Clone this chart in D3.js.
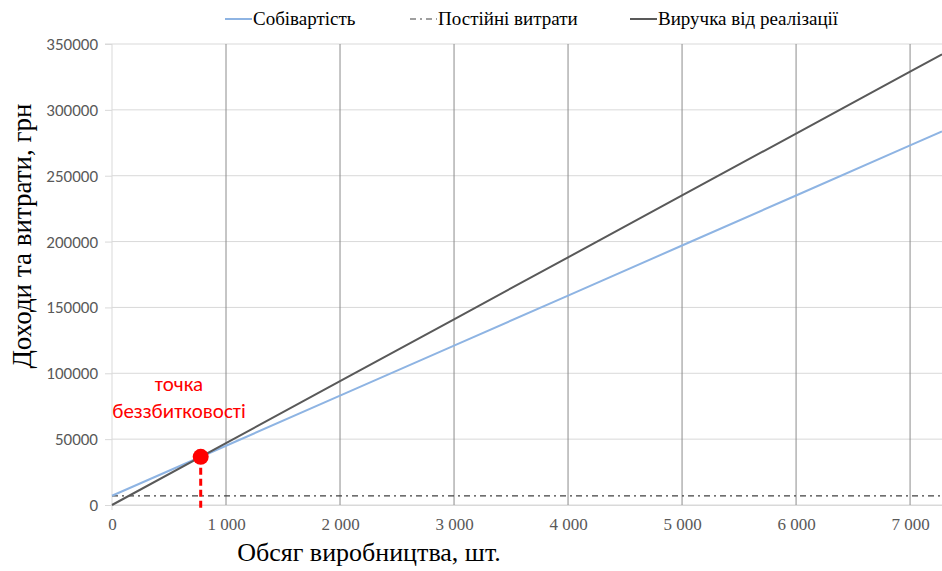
<!DOCTYPE html>
<html>
<head>
<meta charset="utf-8">
<script src="https://cdn.jsdelivr.net/npm/d3@7"></script>
<style>
  body { margin: 0; background: #fff; }
</style>
</head>
<body>
<script>
// Values
const volume = [0, 1000, 2000, 3000, 4000, 5000, 6000, 7000, 7280];
const costValues = [7000, 45000, 83000, 121000, 159000, 197000, 235000, 273000, 283640];
const fixedValues = [7000, 7000, 7000, 7000, 7000, 7000, 7000, 7000, 7000];
const revenueValues = [0, 47000, 94000, 141000, 188000, 235000, 282000, 329000, 342160];
const breakEven = { volume: 778, value: 36560 };
const xTicks = [0, 1000, 2000, 3000, 4000, 5000, 6000, 7000];
const yTicks = [0, 50000, 100000, 150000, 200000, 250000, 300000, 350000];
const seriesNames = ['Собівартість', 'Постійні витрати', 'Виручка від реалізації'];

const [w, h] = [942, 571];
const margin = { top: 44, right: 0, bottom: 66, left: 112 };

const svg = d3.select('body')
    .append('svg')
    .attr('width', w)
    .attr('height', h);

const xScale = d3.scaleLinear()
    .domain([0, 7280])
    .range([margin.left, w - margin.right]);

const yScale = d3.scaleLinear()
    .domain([0, 350000])
    .range([h - margin.bottom, margin.top]);

// Horizontal gridlines
svg.append('g')
    .selectAll('line')
    .data(yTicks)
    .enter()
    .append('line')
    .attr('x1', xScale(0))
    .attr('x2', w)
    .attr('y1', d => yScale(d))
    .attr('y2', d => yScale(d))
    .attr('stroke', '#d9d9d9')
    .attr('stroke-width', 1);

// Vertical gridlines (darker)
svg.append('g')
    .selectAll('line')
    .data(xTicks.filter(d => d > 0))
    .enter()
    .append('line')
    .attr('x1', d => xScale(d))
    .attr('x2', d => xScale(d))
    .attr('y1', yScale(350000))
    .attr('y2', yScale(0))
    .attr('stroke', '#8c8c8c')
    .attr('stroke-width', 1);

// Axes
const yAxis = d3.axisLeft(yScale)
    .tickValues(yTicks)
    .tickSize(7)
    .tickPadding(7)
    .tickFormat(d3.format('d'));

const gy = svg.append('g')
    .attr('transform', `translate(${xScale(0)}, 0)`)
    .call(yAxis);
gy.select('.domain').attr('stroke', '#d9d9d9').attr('d', `M-7,${yScale(350000)}H0V${yScale(0) + 5}`);
gy.selectAll('.tick line').attr('stroke', '#d9d9d9');
gy.selectAll('.tick text')
    .attr('fill', '#595959')
    .attr('font-family', 'Carlito, "Open Sans", sans-serif')
    .attr('font-size', '17px');

const xAxis = d3.axisBottom(xScale)
    .tickValues(xTicks)
    .tickSize(0)
    .tickPadding(13)
    .tickFormat(d => d3.format(',')(d).replace(',', ' '));

const gx = svg.append('g')
    .attr('transform', `translate(0, ${yScale(0)})`)
    .call(xAxis);
gx.select('.domain').attr('stroke', '#d9d9d9');
gx.selectAll('.tick text')
    .attr('fill', '#595959')
    .attr('font-family', '"Liberation Serif", serif')
    .attr('font-size', '17px');

// Lines
const line = vals => d3.line()
    .x((d, i) => xScale(volume[i]))
    .y(d => yScale(d))(vals);

svg.append('path')
    .attr('d', line(fixedValues))
    .attr('fill', 'none')
    .attr('stroke', '#404040')
    .attr('stroke-width', 1.2)
    .attr('stroke-dasharray', '6,4,2,4');

svg.append('path')
    .attr('d', line(costValues))
    .attr('fill', 'none')
    .attr('stroke', '#8eb4e3')
    .attr('stroke-width', 2);

svg.append('path')
    .attr('d', line(revenueValues))
    .attr('fill', 'none')
    .attr('stroke', '#595959')
    .attr('stroke-width', 2);

// Break-even marker
svg.append('line')
    .attr('x1', xScale(breakEven.volume))
    .attr('x2', xScale(breakEven.volume))
    .attr('y1', yScale(breakEven.value))
    .attr('y2', yScale(0) + 6)
    .attr('stroke', '#ff0000')
    .attr('stroke-width', 3)
    .attr('stroke-dasharray', '7,4');

svg.append('circle')
    .attr('cx', xScale(breakEven.volume))
    .attr('cy', yScale(breakEven.value))
    .attr('r', 8)
    .attr('fill', '#ff0000');

svg.append('text')
    .attr('x', 179)
    .attr('y', 391)
    .attr('text-anchor', 'middle')
    .attr('fill', '#ff0000')
    .attr('font-family', 'Carlito, "Open Sans", sans-serif')
    .attr('font-size', '21px')
    .text('точка');

svg.append('text')
    .attr('x', 179)
    .attr('y', 418)
    .attr('text-anchor', 'middle')
    .attr('fill', '#ff0000')
    .attr('font-family', 'Carlito, "Open Sans", sans-serif')
    .attr('font-size', '21px')
    .text('беззбитковості');

// Axis titles
svg.append('text')
    .attr('transform', `translate(31, 236) rotate(-90)`)
    .attr('text-anchor', 'middle')
    .attr('font-family', '"Liberation Serif", serif')
    .attr('font-size', '27px')
    .attr('fill', '#000')
    .text('Доходи та витрати, грн');

svg.append('text')
    .attr('x', 369)
    .attr('y', 561)
    .attr('text-anchor', 'middle')
    .attr('font-family', '"Liberation Serif", serif')
    .attr('font-size', '26px')
    .attr('fill', '#000')
    .text('Обсяг виробництва, шт.');

// Legend
const legendItems = [
    { name: seriesNames[0], x: 225, color: '#8eb4e3', dash: null, width: 2 },
    { name: seriesNames[1], x: 410, color: '#404040', dash: '6,4,2,4', width: 1.2 },
    { name: seriesNames[2], x: 630, color: '#595959', dash: null, width: 2 }
];

const legend = svg.append('g');
const li = legend.selectAll('g')
    .data(legendItems)
    .enter()
    .append('g')
    .attr('transform', d => `translate(${d.x}, 19)`);

li.append('line')
    .attr('x1', 0)
    .attr('x2', 27)
    .attr('stroke', d => d.color)
    .attr('stroke-width', d => d.width)
    .attr('stroke-dasharray', d => d.dash);

li.append('text')
    .attr('x', 28)
    .attr('y', 6)
    .attr('font-family', '"Liberation Serif", serif')
    .attr('font-size', '19px')
    .attr('fill', '#000')
    .text(d => d.name);
</script>
</body>
</html>
